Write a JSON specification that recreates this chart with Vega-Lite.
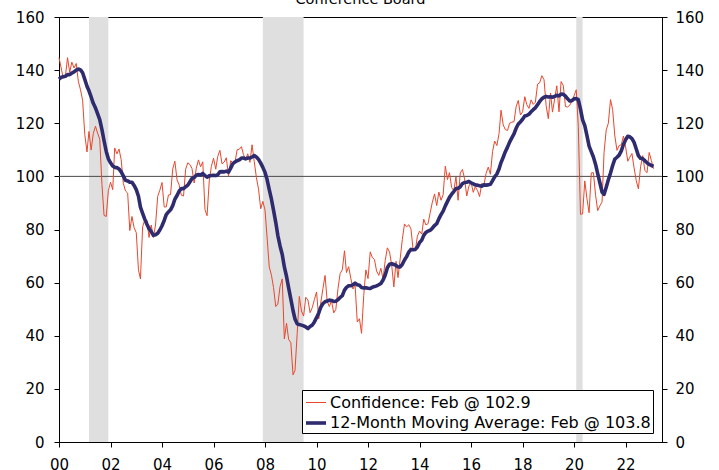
{
  "$schema": "https://vega.github.io/schema/vega-lite/v6.json",
  "autosize": "none",
  "width": 603,
  "height": 425,
  "padding": {"left": 59, "top": 17, "right": 57, "bottom": 28},
  "background": "white",
  "title": {"text": "Conference Board", "fontSize": 14.5, "font": "DejaVu Sans", "fontWeight": "normal", "color": "black", "baseline": "alphabetic", "offset": 0, "dy": 8},
  "datasets": {
    "rec": [
      {"s": "2001-03-01", "e": "2001-12-01"},
      {"s": "2007-12-01", "e": "2009-07-01"},
      {"s": "2020-02-01", "e": "2020-05-01"}
    ],
    "cc": [
      {"d":"2000-01-01","c":144.7,"m":136.6},{"d":"2000-02-01","c":140.8,"m":137.3},{"d":"2000-03-01","c":137.1,"m":137.5},{"d":"2000-04-01","c":137.7,"m":137.7},{"d":"2000-05-01","c":144.7,"m":138.3},{"d":"2000-06-01","c":139.2,"m":138.3},{"d":"2000-07-01","c":143.0,"m":138.9},{"d":"2000-08-01","c":140.8,"m":139.3},{"d":"2000-09-01","c":142.5,"m":140.0},{"d":"2000-10-01","c":135.8,"m":140.4},{"d":"2000-11-01","c":132.6,"m":140.1},{"d":"2000-12-01","c":128.6,"m":139.0},
      {"d":"2001-01-01","c":115.7,"m":136.5},{"d":"2001-02-01","c":109.2,"m":133.9},{"d":"2001-03-01","c":116.9,"m":132.2},{"d":"2001-04-01","c":109.9,"m":129.9},{"d":"2001-05-01","c":116.1,"m":127.5},{"d":"2001-06-01","c":118.9,"m":125.8},{"d":"2001-07-01","c":116.3,"m":123.6},{"d":"2001-08-01","c":114.0,"m":121.4},{"d":"2001-09-01","c":97.0,"m":117.6},{"d":"2001-10-01","c":85.3,"m":113.4},{"d":"2001-11-01","c":84.9,"m":109.4},{"d":"2001-12-01","c":94.6,"m":106.6},
      {"d":"2002-01-01","c":97.8,"m":105.1},{"d":"2002-02-01","c":95.0,"m":103.9},{"d":"2002-03-01","c":110.7,"m":103.4},{"d":"2002-04-01","c":108.5,"m":103.3},{"d":"2002-05-01","c":110.3,"m":102.8},{"d":"2002-06-01","c":106.3,"m":101.7},{"d":"2002-07-01","c":97.4,"m":100.2},{"d":"2002-08-01","c":94.5,"m":98.5},{"d":"2002-09-01","c":93.7,"m":98.3},{"d":"2002-10-01","c":79.6,"m":97.8},{"d":"2002-11-01","c":84.9,"m":97.8},{"d":"2002-12-01","c":80.7,"m":96.6},
      {"d":"2003-01-01","c":78.8,"m":95.0},{"d":"2003-02-01","c":64.8,"m":92.5},{"d":"2003-03-01","c":61.4,"m":88.4},{"d":"2003-04-01","c":81.0,"m":86.1},{"d":"2003-05-01","c":83.6,"m":83.9},{"d":"2003-06-01","c":83.5,"m":82.0},{"d":"2003-07-01","c":77.0,"m":80.3},{"d":"2003-08-01","c":81.7,"m":79.2},{"d":"2003-09-01","c":77.0,"m":77.8},{"d":"2003-10-01","c":81.7,"m":78.0},{"d":"2003-11-01","c":92.5,"m":78.6},{"d":"2003-12-01","c":94.8,"m":79.8},
      {"d":"2004-01-01","c":97.7,"m":81.4},{"d":"2004-02-01","c":88.5,"m":83.4},{"d":"2004-03-01","c":88.5,"m":85.6},{"d":"2004-04-01","c":93.0,"m":86.6},{"d":"2004-05-01","c":93.1,"m":87.4},{"d":"2004-06-01","c":102.8,"m":89.0},{"d":"2004-07-01","c":105.7,"m":91.4},{"d":"2004-08-01","c":98.7,"m":92.8},{"d":"2004-09-01","c":96.7,"m":94.5},{"d":"2004-10-01","c":92.9,"m":95.4},{"d":"2004-11-01","c":92.6,"m":95.4},{"d":"2004-12-01","c":102.7,"m":96.1},
      {"d":"2005-01-01","c":105.1,"m":96.7},{"d":"2005-02-01","c":104.4,"m":98.0},{"d":"2005-03-01","c":103.0,"m":99.2},{"d":"2005-04-01","c":97.5,"m":99.6},{"d":"2005-05-01","c":103.1,"m":100.4},{"d":"2005-06-01","c":106.2,"m":100.7},{"d":"2005-07-01","c":103.6,"m":100.5},{"d":"2005-08-01","c":105.5,"m":101.1},{"d":"2005-09-01","c":87.5,"m":100.3},{"d":"2005-10-01","c":85.2,"m":99.7},{"d":"2005-11-01","c":98.3,"m":100.2},{"d":"2005-12-01","c":103.8,"m":100.3},
      {"d":"2006-01-01","c":106.8,"m":100.4},{"d":"2006-02-01","c":102.7,"m":100.3},{"d":"2006-03-01","c":107.5,"m":100.6},{"d":"2006-04-01","c":109.8,"m":101.7},{"d":"2006-05-01","c":104.7,"m":101.8},{"d":"2006-06-01","c":105.4,"m":101.7},{"d":"2006-07-01","c":107.0,"m":102.0},{"d":"2006-08-01","c":100.2,"m":101.6},{"d":"2006-09-01","c":105.9,"m":103.1},{"d":"2006-10-01","c":105.1,"m":104.8},{"d":"2006-11-01","c":105.3,"m":105.4},{"d":"2006-12-01","c":110.0,"m":105.9},
      {"d":"2007-01-01","c":110.2,"m":106.2},{"d":"2007-02-01","c":111.2,"m":106.9},{"d":"2007-03-01","c":108.2,"m":106.9},{"d":"2007-04-01","c":106.3,"m":106.6},{"d":"2007-05-01","c":108.5,"m":106.9},{"d":"2007-06-01","c":105.3,"m":106.9},{"d":"2007-07-01","c":111.9,"m":107.3},{"d":"2007-08-01","c":105.6,"m":107.8},{"d":"2007-09-01","c":99.5,"m":107.3},{"d":"2007-10-01","c":95.2,"m":106.4},{"d":"2007-11-01","c":87.8,"m":105.0},{"d":"2007-12-01","c":90.6,"m":103.4},
      {"d":"2008-01-01","c":87.3,"m":101.5},{"d":"2008-02-01","c":76.4,"m":98.6},{"d":"2008-03-01","c":65.9,"m":95.0},{"d":"2008-04-01","c":62.8,"m":91.4},{"d":"2008-05-01","c":58.1,"m":87.2},{"d":"2008-06-01","c":51.0,"m":82.7},{"d":"2008-07-01","c":51.9,"m":77.7},{"d":"2008-08-01","c":58.5,"m":73.8},{"d":"2008-09-01","c":61.4,"m":70.6},{"d":"2008-10-01","c":38.8,"m":65.9},{"d":"2008-11-01","c":44.7,"m":62.3},{"d":"2008-12-01","c":38.6,"m":58.0},
      {"d":"2009-01-01","c":37.4,"m":53.8},{"d":"2009-02-01","c":25.3,"m":49.5},{"d":"2009-03-01","c":26.9,"m":46.3},{"d":"2009-04-01","c":40.8,"m":44.5},{"d":"2009-05-01","c":54.8,"m":44.2},{"d":"2009-06-01","c":49.3,"m":44.0},{"d":"2009-07-01","c":47.4,"m":43.7},{"d":"2009-08-01","c":54.5,"m":43.3},{"d":"2009-09-01","c":53.4,"m":42.7},{"d":"2009-10-01","c":48.7,"m":43.5},{"d":"2009-11-01","c":50.6,"m":44.0},{"d":"2009-12-01","c":53.6,"m":45.2},
      {"d":"2010-01-01","c":56.5,"m":46.8},{"d":"2010-02-01","c":46.4,"m":48.6},{"d":"2010-03-01","c":52.3,"m":50.7},{"d":"2010-04-01","c":57.7,"m":52.1},{"d":"2010-05-01","c":62.7,"m":52.8},{"d":"2010-06-01","c":52.9,"m":53.1},{"d":"2010-07-01","c":51.0,"m":53.4},{"d":"2010-08-01","c":53.2,"m":53.3},{"d":"2010-09-01","c":48.6,"m":52.9},{"d":"2010-10-01","c":49.9,"m":53.0},{"d":"2010-11-01","c":57.8,"m":53.6},{"d":"2010-12-01","c":63.4,"m":54.4},
      {"d":"2011-01-01","c":64.8,"m":55.1},{"d":"2011-02-01","c":72.0,"m":57.2},{"d":"2011-03-01","c":63.8,"m":58.2},{"d":"2011-04-01","c":66.0,"m":58.8},{"d":"2011-05-01","c":61.7,"m":58.8},{"d":"2011-06-01","c":57.6,"m":59.2},{"d":"2011-07-01","c":59.2,"m":59.8},{"d":"2011-08-01","c":45.2,"m":59.2},{"d":"2011-09-01","c":46.4,"m":59.0},{"d":"2011-10-01","c":40.9,"m":58.2},{"d":"2011-11-01","c":55.2,"m":58.0},{"d":"2011-12-01","c":64.8,"m":58.1},
      {"d":"2012-01-01","c":61.5,"m":57.9},{"d":"2012-02-01","c":71.6,"m":57.8},{"d":"2012-03-01","c":69.5,"m":58.3},{"d":"2012-04-01","c":68.7,"m":58.5},{"d":"2012-05-01","c":64.4,"m":58.8},{"d":"2012-06-01","c":62.7,"m":59.2},{"d":"2012-07-01","c":65.4,"m":59.7},{"d":"2012-08-01","c":61.3,"m":61.0},{"d":"2012-09-01","c":68.4,"m":62.9},{"d":"2012-10-01","c":73.1,"m":65.6},{"d":"2012-11-01","c":71.5,"m":66.9},{"d":"2012-12-01","c":66.7,"m":67.1},
      {"d":"2013-01-01","c":58.4,"m":66.8},{"d":"2013-02-01","c":68.0,"m":66.5},{"d":"2013-03-01","c":61.9,"m":65.9},{"d":"2013-04-01","c":69.0,"m":65.9},{"d":"2013-05-01","c":76.2,"m":66.9},{"d":"2013-06-01","c":82.1,"m":68.5},{"d":"2013-07-01","c":81.0,"m":69.8},{"d":"2013-08-01","c":81.8,"m":71.5},{"d":"2013-09-01","c":80.2,"m":72.5},{"d":"2013-10-01","c":72.4,"m":72.4},{"d":"2013-11-01","c":72.0,"m":72.5},{"d":"2013-12-01","c":77.5,"m":73.4},
      {"d":"2014-01-01","c":79.4,"m":75.1},{"d":"2014-02-01","c":78.3,"m":76.0},{"d":"2014-03-01","c":83.9,"m":77.8},{"d":"2014-04-01","c":81.7,"m":78.9},{"d":"2014-05-01","c":82.2,"m":79.4},{"d":"2014-06-01","c":86.4,"m":79.7},{"d":"2014-07-01","c":90.3,"m":80.5},{"d":"2014-08-01","c":93.4,"m":81.5},{"d":"2014-09-01","c":89.0,"m":82.2},{"d":"2014-10-01","c":94.1,"m":84.0},{"d":"2014-11-01","c":91.0,"m":85.6},{"d":"2014-12-01","c":93.1,"m":86.9},
      {"d":"2015-01-01","c":103.8,"m":88.9},{"d":"2015-02-01","c":98.8,"m":90.6},{"d":"2015-03-01","c":101.4,"m":92.1},{"d":"2015-04-01","c":95.8,"m":93.3},{"d":"2015-05-01","c":94.6,"m":94.3},{"d":"2015-06-01","c":99.8,"m":95.4},{"d":"2015-07-01","c":91.0,"m":95.5},{"d":"2015-08-01","c":101.3,"m":96.1},{"d":"2015-09-01","c":102.6,"m":97.3},{"d":"2015-10-01","c":99.1,"m":97.7},{"d":"2015-11-01","c":92.6,"m":97.8},{"d":"2015-12-01","c":96.3,"m":98.1},
      {"d":"2016-01-01","c":97.8,"m":97.6},{"d":"2016-02-01","c":94.0,"m":97.2},{"d":"2016-03-01","c":96.1,"m":96.8},{"d":"2016-04-01","c":94.7,"m":96.7},{"d":"2016-05-01","c":92.4,"m":96.5},{"d":"2016-06-01","c":97.4,"m":96.3},{"d":"2016-07-01","c":96.7,"m":96.8},{"d":"2016-08-01","c":101.1,"m":96.7},{"d":"2016-09-01","c":103.5,"m":96.8},{"d":"2016-10-01","c":100.8,"m":97.0},{"d":"2016-11-01","c":109.4,"m":98.4},{"d":"2016-12-01","c":113.3,"m":99.8},
      {"d":"2017-01-01","c":111.6,"m":100.9},{"d":"2017-02-01","c":116.1,"m":102.8},{"d":"2017-03-01","c":124.9,"m":105.2},{"d":"2017-04-01","c":119.4,"m":107.2},{"d":"2017-05-01","c":117.6,"m":109.3},{"d":"2017-06-01","c":117.3,"m":111.0},{"d":"2017-07-01","c":120.0,"m":112.9},{"d":"2017-08-01","c":120.4,"m":114.5},{"d":"2017-09-01","c":120.6,"m":116.0},{"d":"2017-10-01","c":126.2,"m":118.1},{"d":"2017-11-01","c":128.6,"m":119.7},{"d":"2017-12-01","c":123.1,"m":120.5},
      {"d":"2018-01-01","c":124.3,"m":121.5},{"d":"2018-02-01","c":130.0,"m":122.7},{"d":"2018-03-01","c":127.0,"m":122.9},{"d":"2018-04-01","c":125.6,"m":123.4},{"d":"2018-05-01","c":128.8,"m":124.3},{"d":"2018-06-01","c":127.1,"m":125.1},{"d":"2018-07-01","c":127.9,"m":125.8},{"d":"2018-08-01","c":134.7,"m":127.0},{"d":"2018-09-01","c":135.3,"m":128.2},{"d":"2018-10-01","c":137.9,"m":129.2},{"d":"2018-11-01","c":136.4,"m":129.8},{"d":"2018-12-01","c":126.6,"m":130.1},
      {"d":"2019-01-01","c":121.7,"m":129.9},{"d":"2019-02-01","c":131.4,"m":130.0},{"d":"2019-03-01","c":124.2,"m":129.8},{"d":"2019-04-01","c":129.2,"m":130.1},{"d":"2019-05-01","c":134.1,"m":130.5},{"d":"2019-06-01","c":124.3,"m":130.3},{"d":"2019-07-01","c":135.7,"m":131.0},{"d":"2019-08-01","c":134.2,"m":130.9},{"d":"2019-09-01","c":126.3,"m":130.2},{"d":"2019-10-01","c":126.1,"m":129.2},{"d":"2019-11-01","c":126.8,"m":128.4},{"d":"2019-12-01","c":128.2,"m":128.5},
      {"d":"2020-01-01","c":130.4,"m":129.2},{"d":"2020-02-01","c":132.6,"m":129.3},{"d":"2020-03-01","c":118.8,"m":128.9},{"d":"2020-04-01","c":85.7,"m":125.3},{"d":"2020-05-01","c":85.9,"m":121.3},{"d":"2020-06-01","c":98.3,"m":119.1},{"d":"2020-07-01","c":91.7,"m":115.4},{"d":"2020-08-01","c":86.3,"m":111.4},{"d":"2020-09-01","c":101.3,"m":109.3},{"d":"2020-10-01","c":101.4,"m":107.3},{"d":"2020-11-01","c":92.9,"m":104.5},{"d":"2020-12-01","c":87.1,"m":101.0},
      {"d":"2021-01-01","c":88.9,"m":97.6},{"d":"2021-02-01","c":90.4,"m":94.1},{"d":"2021-03-01","c":109.0,"m":93.2},{"d":"2021-04-01","c":117.5,"m":95.9},{"d":"2021-05-01","c":120.0,"m":98.7},{"d":"2021-06-01","c":128.9,"m":101.3},{"d":"2021-07-01","c":125.1,"m":104.1},{"d":"2021-08-01","c":115.2,"m":106.5},{"d":"2021-09-01","c":109.8,"m":107.2},{"d":"2021-10-01","c":111.6,"m":108.0},{"d":"2021-11-01","c":111.9,"m":109.6},{"d":"2021-12-01","c":115.2,"m":112.0},
      {"d":"2022-01-01","c":111.1,"m":113.8},{"d":"2022-02-01","c":105.7,"m":115.1},{"d":"2022-03-01","c":107.2,"m":114.9},{"d":"2022-04-01","c":108.6,"m":114.2},{"d":"2022-05-01","c":103.2,"m":112.8},{"d":"2022-06-01","c":98.4,"m":110.3},{"d":"2022-07-01","c":95.3,"m":107.8},{"d":"2022-08-01","c":103.6,"m":106.8},{"d":"2022-09-01","c":107.8,"m":106.6},{"d":"2022-10-01","c":102.2,"m":105.9},{"d":"2022-11-01","c":101.4,"m":105.1},{"d":"2022-12-01","c":109.0,"m":104.5},
      {"d":"2023-01-01","c":106.0,"m":104.1},{"d":"2023-02-01","c":102.9,"m":103.8}
    ]
  },
  "layer": [
    {
      "data": {"name": "rec"},
      "mark": {"type": "rect", "color": "#dfdfdf"},
      "encoding": {
        "x": {"field": "s", "type": "temporal", "scale": {"type": "utc", "domain": [{"year": 2000, "month": 1, "date": 1, "utc": true}, {"year": 2023, "month": 6, "date": 1, "utc": true}]}, "axis": {"title": null, "format": "%y", "tickCount": {"interval": "year", "step": 2}}},
        "x2": {"field": "e"}
      }
    },
    {
      "data": {"values": [{"v": 100}]},
      "mark": {"type": "rule", "color": "#4a4a4a", "strokeWidth": 1},
      "encoding": {
        "y": {"field": "v", "type": "quantitative", "scale": {"domain": [0, 160], "nice": false}, "axis": {"orient": "right", "title": null, "labelPadding": 8, "values": [0, 20, 40, 60, 80, 100, 120, 140, 160]}}
      }
    },
    {
      "data": {"name": "cc"},
      "transform": [{"fold": ["c", "m"], "as": ["k", "val"]}],
      "mark": {"type": "line", "strokeJoin": "round"},
      "encoding": {
        "x": {"field": "d", "type": "temporal", "axis": {"title": null, "format": "%y", "tickCount": {"interval": "year", "step": 2}}},
        "y": {"field": "val", "type": "quantitative", "scale": {"domain": [0, 160], "nice": false}, "axis": {"orient": "left", "title": null, "labelPadding": 10, "values": [0, 20, 40, 60, 80, 100, 120, 140, 160]}},
        "color": {"field": "k", "type": "nominal", "scale": {"domain": ["c", "m"], "range": ["#e8472d", "#2e2b6f"]},
          "legend": {"title": null, "labelExpr": "datum.value == 'c' ? 'Confidence: Feb @ 102.9' : '12-Month Moving Average: Feb @ 103.8'"}},
        "strokeWidth": {"field": "k", "type": "nominal", "scale": {"domain": ["c", "m"], "range": [1, 3.6]},
          "legend": {"title": null, "labelExpr": "datum.value == 'c' ? 'Confidence: Feb @ 102.9' : '12-Month Moving Average: Feb @ 103.8'"}}
      }
    }
  ],
  "resolve": {"axis": {"y": "independent"}},
  "config": {
    "font": "DejaVu Sans",
    "view": {"stroke": "black", "strokeWidth": 1},
    "axis": {"labelFont": "DejaVu Sans", "labelFontSize": 15, "labelColor": "black", "domainColor": "black", "tickColor": "black", "tickSize": 5, "grid": false, "domainWidth": 1, "tickWidth": 1},
    "axisX": {"labelPadding": 10, "labelFlush": false},
    "legend": {"orient": "bottom-right", "offset": 9, "padding": 2, "fillColor": "white", "strokeColor": "black", "strokeWidth": 1, "cornerRadius": 0, "labelFont": "DejaVu Sans", "labelFontSize": 16, "labelColor": "black", "labelLimit": 500, "symbolType": "stroke", "symbolSize": 400, "rowPadding": 0, "labelOffset": 2}
  }
}
